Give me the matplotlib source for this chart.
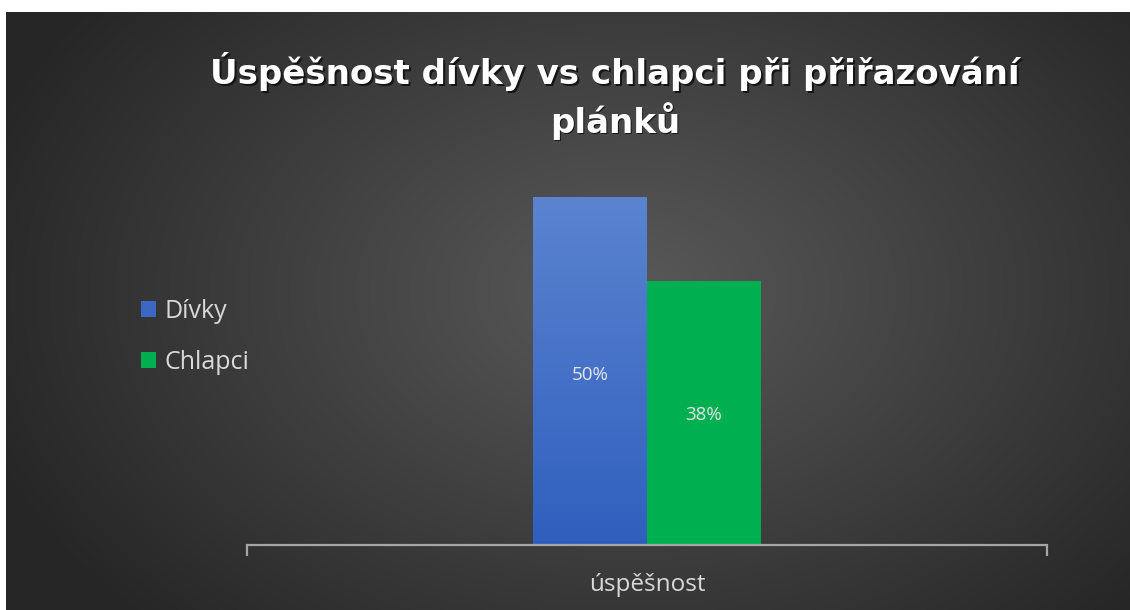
import numpy as np
import matplotlib
matplotlib.use("Agg")
import matplotlib.pyplot as plt
from matplotlib.colors import LinearSegmentedColormap

plt.rcParams['font.family'] = ['Open Sans', 'DejaVu Sans']

title = "Úspěšnost dívky vs chlapci při přiřazování\nplánků"
category = ["úspěšnost"]
series_names = ["Dívky", "Chlapci"]
values = [0.50, 0.38]
labels = ["50%", "38%"]
colors = ["#3a68c4", "#00b050"]

W, H = 1130, 610
fig = plt.figure(figsize=(W / 100, H / 100), dpi=100)
fig.patch.set_facecolor("white")

# background panel with radial gradient
bg = fig.add_axes([6 / W, 0, 1 - 6 / W, 1 - 12 / H])
bg.set_axis_off()
yy, xx = np.mgrid[0:600, 0:1124]
cx, cy = 620, 280
r = np.sqrt(((xx - cx) / 680.0) ** 2 + ((yy - cy) / 470.0) ** 2)
r = np.clip(r, 0, 1)
c0, c1 = np.array([0.35, 0.35, 0.35]), np.array([0.15, 0.15, 0.15])
img = c0[None, None, :] * (1 - r[..., None]) + c1[None, None, :] * r[..., None]
bg.imshow(img, aspect="auto", extent=[0, 1, 0, 1])
bg.set_xlim(0, 1)
bg.set_ylim(0, 1)

# plot axes
x0, x1 = 247, 1047
ybase = 545
ytop_val = 197
ymax = 0.55
ah = (ybase - ytop_val) / values[0] * ymax
ax = fig.add_axes([x0 / W, (H - ybase) / H, (x1 - x0) / W, ah / H])
ax.patch.set_alpha(0)
ax.set_xlim(-0.5, 0.5)
ax.set_ylim(0, ymax)
for s in ["top", "right", "left"]:
    ax.spines[s].set_visible(False)
ax.spines["bottom"].set_color("#a6a6a6")
ax.spines["bottom"].set_linewidth(1.6)
ax.set_yticks([])
ax.set_xticks([-0.5, 0.5])
ax.set_xticklabels(["", ""])
ax.tick_params(axis="x", length=8, width=1.6, color="#a6a6a6", direction="out")

bw = 114 / 800
xs = [-bw / 2, bw / 2]
bars = []
for i, (x, v, c, n) in enumerate(zip(xs, values, colors, series_names)):
    b = ax.bar(x, v, width=bw, color=c, label=n, zorder=2)
    bars.append(b[0])

# gradient on blue bar
grad = LinearSegmentedColormap.from_list("g", ["#2f5fbe", "#5b84d0"])
gimg = np.linspace(0, 1, 256).reshape(-1, 1)
bb = bars[0]
im = ax.imshow(gimg, cmap=grad, origin="lower", aspect="auto",
               extent=[bb.get_x(), bb.get_x() + bb.get_width(), 0, bb.get_height()], zorder=2.5)
im.set_clip_path(bb)
ax.set_xlim(-0.5, 0.5)
ax.set_ylim(0, ymax)

# data labels (pixel positions from the bar base)
label_px = [170, 130]
for x, lp, t in zip(xs, label_px, labels):
    ax.text(x, lp / ah * ymax, t, ha="center", va="center", color="#e6e6e6",
            fontsize=13.5, zorder=3)

ax.text(0.5, -40 / ah, category[0], ha="center", va="center", color="#d9d9d9", fontsize=17.5,
        transform=ax.transAxes)

# legend
leg = fig.legend(handles=bars, labels=series_names, loc="center left",
                 bbox_to_anchor=(118 / W, 1 - 337 / H), frameon=False,
                 fontsize=18, labelcolor="#d9d9d9", handlelength=0.6, handleheight=0.6,
                 handletextpad=0.35, labelspacing=1.05)

# title with shadow
for dx, dy, col, z in [(1.5, -1.5, "#151515", 1), (0, 0, "white", 2)]:
    fig.text(615 / W + dx / W, 1 - 96 / H + dy / H, title, ha="center", va="center",
             fontsize=24.5, fontweight="bold", color=col, linespacing=1.35, zorder=z,
             family=["DejaVu Sans"])

fig.savefig("out.png", dpi=100, facecolor=fig.get_facecolor())
